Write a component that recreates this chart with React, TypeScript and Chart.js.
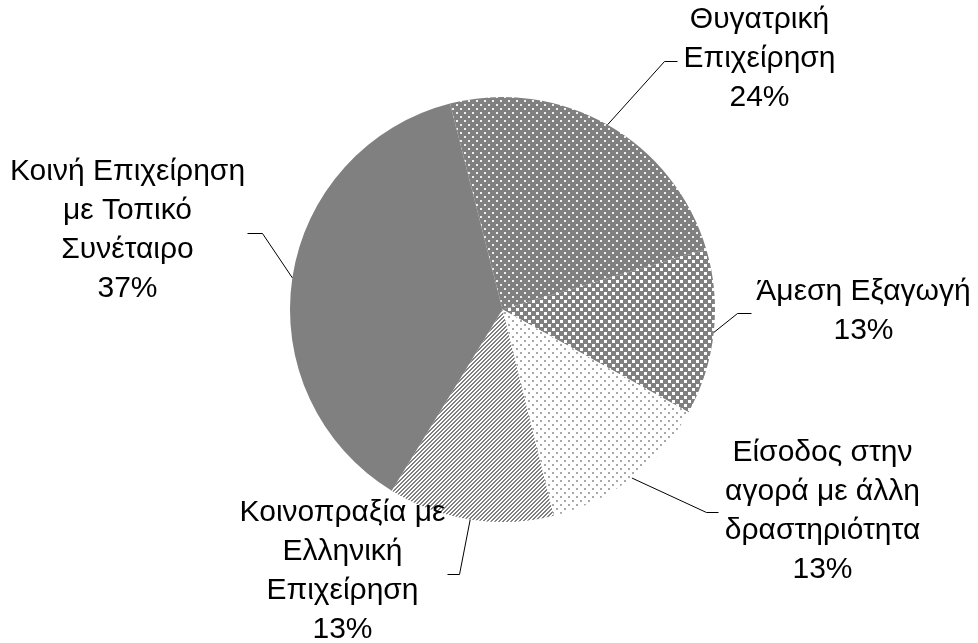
import React, { useEffect, useRef } from 'react';
import { Chart, registerables } from 'chart.js';

Chart.register(...registerables);

// ---- Data ----
const categories: string[][] = [
  ['Θυγατρική', 'Επιχείρηση'],
  ['Άμεση Εξαγωγή'],
  ['Είσοδος στην', 'αγορά με άλλη', 'δραστηριότητα'],
  ['Κοινοπραξία με', 'Ελληνική', 'Επιχείρηση'],
  ['Κοινή Επιχείρηση', 'με Τοπικό', 'Συνέταιρο'],
];
const values: number[] = [24.4, 12.6, 13.1, 12.6, 37.3];
const percentLabels: string[] = ['24%', '13%', '13%', '13%', '37%'];
const fillKinds: string[] = ['dotsOnGray', 'squaresOnGray', 'dotsOnWhite', 'stripes', 'solid'];

// label layout relative to pie centre: elbow point, line end, text centre x, first-line centre y
const labelLayout = [
  { ex: 162, ey: -249, lx: 175, tx: 257, ty: -290 },
  { ex: 235, ey: 3, lx: 249, tx: 361, ty: -18 },
  { ex: 204, ey: 202, lx: 216, tx: 320, ty: 143 },
  { ex: -43, ey: 264, lx: -55, tx: -160, ty: 203 },
  { ex: -240, ey: -77, lx: -255, tx: -375, ty: -138 },
];

const GRAY = '#808080';

function makePattern(kind: string): CanvasPattern | string {
  if (kind === 'solid') return GRAY;
  const c = document.createElement('canvas');
  const g = c.getContext('2d')!;
  if (kind === 'dotsOnGray') {
    c.width = 8; c.height = 8;
    g.fillStyle = GRAY; g.fillRect(0, 0, 8, 8);
    g.fillStyle = '#f0f0f0';
    g.fillRect(0, 0, 2, 2); g.fillRect(4, 4, 2, 2);
  } else if (kind === 'squaresOnGray') {
    c.width = 8; c.height = 8;
    g.fillStyle = GRAY; g.fillRect(0, 0, 8, 8);
    g.fillStyle = '#ffffff';
    g.fillRect(0, 0, 3, 3); g.fillRect(4, 4, 3, 3);
  } else if (kind === 'dotsOnWhite') {
    c.width = 8; c.height = 8;
    g.fillStyle = '#ffffff'; g.fillRect(0, 0, 8, 8);
    g.fillStyle = '#a8a8a8';
    g.fillRect(0, 0, 2, 2); g.fillRect(4, 4, 2, 2);
  } else {
    c.width = 4; c.height = 4;
    g.fillStyle = '#ffffff'; g.fillRect(0, 0, 4, 4);
    g.fillStyle = GRAY;
    for (let x = 0; x < 4; x++) {
      const y = 3 - x;
      g.fillRect(x, y, 1, 1);
      g.fillRect(x, (y + 1) % 4, 1, 1);
    }
  }
  return g.createPattern(c, 'repeat')!;
}

const labelPlugin = {
  id: 'leaderLabels',
  afterDraw(chart: any) {
    const ctx = chart.ctx as CanvasRenderingContext2D;
    const meta = chart.getDatasetMeta(0);
    ctx.save();
    ctx.font = '30px "Liberation Sans", Arial, sans-serif';
    ctx.fillStyle = '#000';
    ctx.textAlign = 'center';
    ctx.textBaseline = 'middle';
    ctx.strokeStyle = '#000';
    ctx.lineWidth = 1;
    meta.data.forEach((arc: any, i: number) => {
      const p = arc.getProps(['x', 'y', 'startAngle', 'endAngle', 'outerRadius'], true);
      const mid = (p.startAngle + p.endAngle) / 2;
      const sx = p.x + Math.cos(mid) * p.outerRadius;
      const sy = p.y + Math.sin(mid) * p.outerRadius;
      const L = labelLayout[i];
      ctx.beginPath();
      ctx.moveTo(sx, sy);
      ctx.lineTo(p.x + L.ex, Math.round(p.y + L.ey) + 0.5);
      ctx.lineTo(p.x + L.lx, Math.round(p.y + L.ey) + 0.5);
      ctx.stroke();
      const lines = [...categories[i], percentLabels[i]];
      lines.forEach((t, k) => {
        ctx.fillText(t, p.x + L.tx, p.y + L.ty + k * 39);
      });
    });
    ctx.restore();
  },
};

export default function App() {
  const ref = useRef<HTMLCanvasElement>(null);
  useEffect(() => {
    document.body.style.margin = '0';
    const chart = new Chart(ref.current!, {
      type: 'pie',
      data: {
        labels: categories.map((c) => c.join(' ')),
        datasets: [
          {
            data: values,
            backgroundColor: fillKinds.map(makePattern) as any,
            borderWidth: 0,
          },
        ],
      },
      options: {
        responsive: false,
        animation: false,
        rotation: -14.3,
        layout: { padding: { left: 290, right: 263, top: 97, bottom: 121 } },
        plugins: { legend: { display: false }, tooltip: { enabled: false } },
      },
      plugins: [labelPlugin],
    });
    return () => chart.destroy();
  }, []);
  return (
    <div style={{ position: 'fixed', left: 0, top: 0, width: 978, height: 643, background: '#fff' }}>
      <canvas ref={ref} width={978} height={643} />
    </div>
  );
}
